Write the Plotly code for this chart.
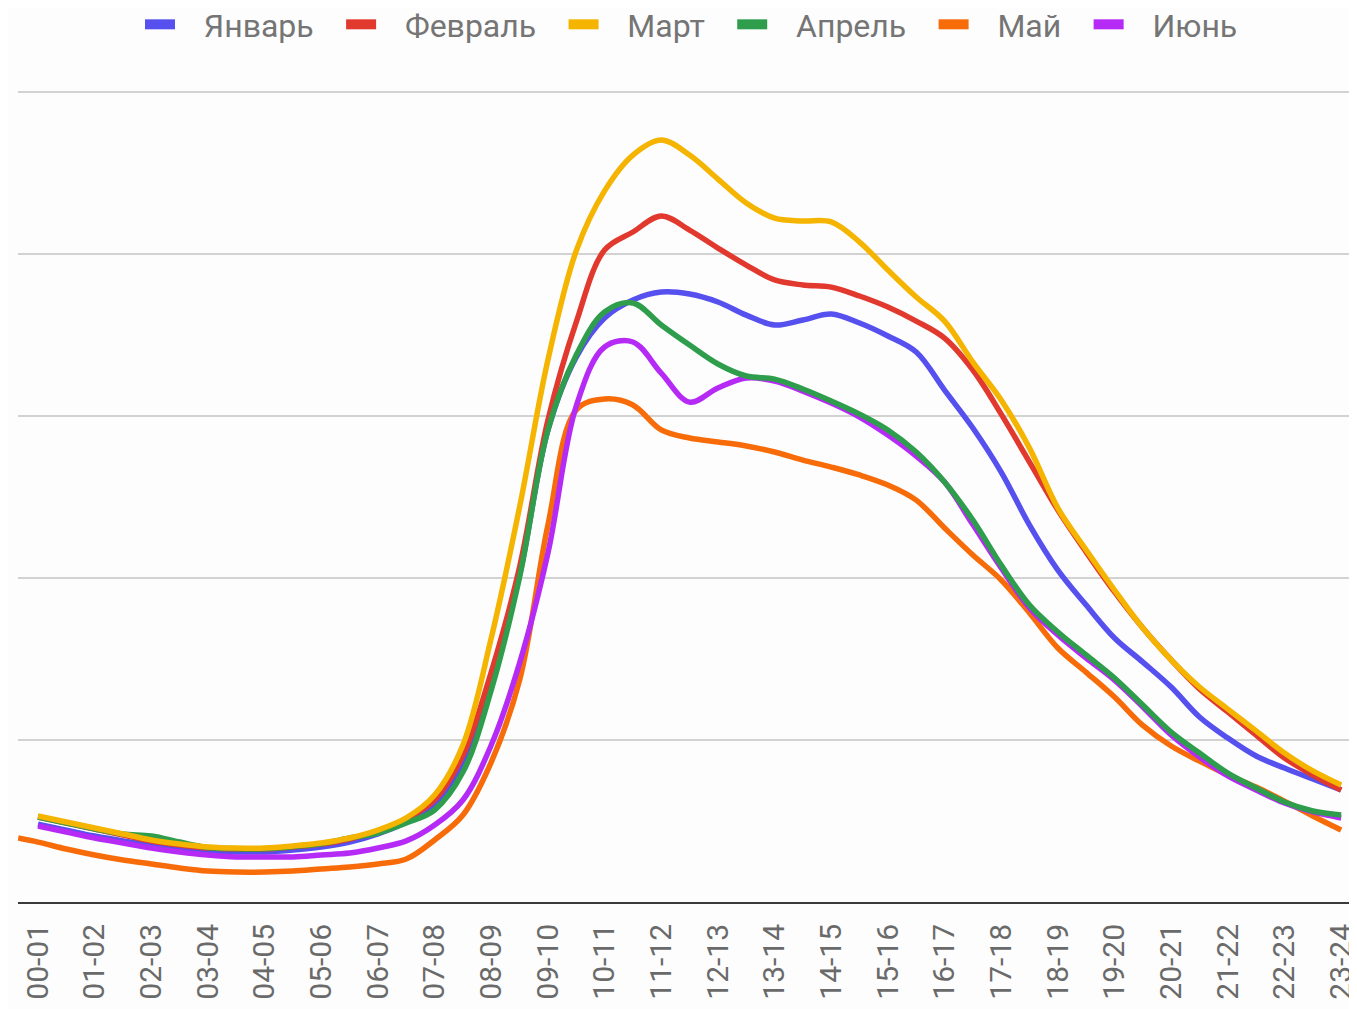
import plotly.graph_objects as go

hours = ["00-01", "01-02", "02-03", "03-04", "04-05", "05-06", "06-07", "07-08",
         "08-09", "09-10", "10-11", "11-12", "12-13", "13-14", "14-15", "15-16",
         "16-17", "17-18", "18-19", "19-20", "20-21", "21-22", "22-23", "23-24"]

# readings every half hour (position 0 = "00-01", 0.5 = halfway to "01-02", ...)
half_steps = [i / 2 for i in range(47)]
may_steps = [-0.35] + half_steps

jan = [48.1, 44.4, 40.7, 37.7, 35.2, 32.7, 31.5, 30.9, 30.9, 32.1, 34.0, 37.0, 42.0, 49.4,
       59.9, 85.8, 137.0, 201.9, 291.4, 336.4, 360.5, 371.6, 376.5, 375.3, 370.4, 362.3,
       356.2, 359.3, 363.0, 357.4, 349.4, 339.5, 316.0, 292.6, 265.4, 232.7, 204.9, 183.3,
       163.0, 148.1, 132.7, 114.2, 101.2, 90.1, 82.7, 75.9, 69.1]
feb = [52.5, 48.8, 45.1, 41.4, 37.7, 35.2, 33.3, 32.7, 32.7, 34.0, 35.8, 38.9, 43.8, 51.2,
       63.0, 90.7, 142.0, 206.8, 297.5, 358.0, 402.5, 413.6, 423.5, 414.8, 403.7, 393.2,
       384.0, 380.9, 379.6, 374.1, 367.3, 358.6, 348.1, 328.4, 301.2, 271.6, 242.0, 216.0,
       191.4, 169.1, 149.4, 131.5, 117.3, 103.1, 88.9, 78.4, 69.1]
mar = [53.1, 49.4, 45.7, 42.0, 38.3, 35.8, 34.0, 33.3, 33.3, 34.6, 36.4, 39.5, 44.4, 51.9,
       66.0, 96.9, 163.0, 243.8, 334.6, 402.0, 439.0, 461.1, 470.4, 461.1, 446.3, 431.5,
       422.2, 420.4, 419.8, 407.4, 390.1, 373.5, 358.6, 333.3, 309.9, 280.2, 243.2, 217.3,
       192.6, 169.1, 149.4, 132.7, 119.1, 105.6, 92.0, 80.9, 72.2]
apr = [52.5, 48.8, 45.1, 42.0, 40.7, 37.0, 33.6, 32.9, 32.9, 34.2, 36.0, 39.5, 42.6, 48.8,
       56.8, 80.2, 130.9, 200.6, 291.4, 337.7, 364.2, 369.8, 356.2, 343.8, 332.1, 324.7,
       322.8, 316.7, 309.3, 301.2, 291.4, 277.8, 259.3, 235.8, 208.0, 183.3, 166.7, 152.5,
       138.3, 121.6, 104.9, 92.0, 79.6, 70.4, 61.7, 56.2, 53.7]
may = [39.5, 37.0, 32.7, 29.0, 25.9, 23.5, 21.0, 19.1, 18.5, 18.5, 19.1, 20.4, 21.6, 23.5,
       26.5, 38.3, 53.7, 86.4, 137.0, 232.7, 303.7, 310.5, 306.8, 291.4, 286.4, 284.0,
       281.5, 277.8, 272.8, 268.5, 263.6, 257.4, 248.1, 230.9, 214.2, 198.8, 178.4, 156.8,
       141.8, 126.5, 109.0, 96.3, 87.0, 78.4, 71.0, 62.3, 53.1, 44.4]
jun = [46.9, 43.2, 39.5, 36.4, 33.3, 30.9, 29.0, 27.8, 27.8, 27.8, 29.0, 30.2, 33.3, 37.7,
       47.5, 63.0, 96.9, 147.5, 215.4, 306.2, 342.6, 345.7, 326.5, 308.6, 317.3, 323.5,
       321.6, 315.4, 308.0, 299.4, 288.3, 275.3, 259.3, 233.0, 206.2, 181.5, 164.8, 150.6,
       137.0, 120.4, 103.1, 89.5, 77.8, 69.1, 61.1, 55.6, 51.9]

series = {
    "Январь": (half_steps, jan, "#5650ef"),
    "Февраль": (half_steps, feb, "#e1392e"),
    "Март": (half_steps, mar, "#f4b400"),
    "Апрель": (half_steps, apr, "#2e9d4c"),
    "Май": (may_steps, may, "#f76b09"),
    "Июнь": (half_steps, jun, "#b52af5"),
}
legend_order = ["Январь", "Февраль", "Март", "Апрель", "Май", "Июнь"]
draw_order = ["Январь", "Февраль", "Май", "Июнь", "Апрель", "Март"]  # bottom -> top

fig = go.Figure()
for name in draw_order:
    xs, ys, color = series[name]
    fig.add_trace(go.Scatter(
        x=xs, y=ys, name=name, mode="lines", showlegend=False,
        line=dict(color=color, width=5.5, shape="spline", smoothing=1.0),
        hoverinfo="skip",
    ))

# legend entries with thick swatches (no data of their own)
nb = "\u00a0"
for k, name in enumerate(legend_order):
    color = series[name][2]
    trail = nb * 2 + "\u2009" if k < len(legend_order) - 1 else ""
    fig.add_trace(go.Scatter(
        x=[None], y=[None], name=nb * 3 + name + trail, mode="lines",
        line=dict(color=color, width=10), showlegend=True, hoverinfo="skip",
    ))

# the page body has an 8px margin, so the figure is 8px smaller than the window
fig.update_layout(
    width=1349, height=1001,
    margin=dict(l=10, r=0, t=80, b=107, autoexpand=False),
    paper_bgcolor="#fdfdfd",
    plot_bgcolor="#fdfdfd",
    font=dict(family="Roboto", color="#757575"),
    showlegend=True,
    legend=dict(
        orientation="h", x=0.503, xanchor="center", y=1.078, yanchor="middle",
        font=dict(size=32, color="#757575"), itemwidth=30,
        bgcolor="rgba(0,0,0,0)",
    ),
    xaxis=dict(
        range=[-0.353, 23.28],
        tickmode="array", tickvals=list(range(len(hours))), ticktext=hours,
        tickangle=-90, tickfont=dict(size=30, color="#6a6a6a"),
        showgrid=False, zeroline=False,
        showline=True, linecolor="#3a3a3a", linewidth=2,
        ticks="", ticklabelstandoff=8, ticklabeloverflow="allow",
    ),
    yaxis=dict(
        range=[0, 502.5], dtick=100, showticklabels=False,
        showgrid=True, gridcolor="#d2d2d2", gridwidth=1.5,
        zeroline=False, showline=False,
    ),
)

fig.write_html("out.html")
